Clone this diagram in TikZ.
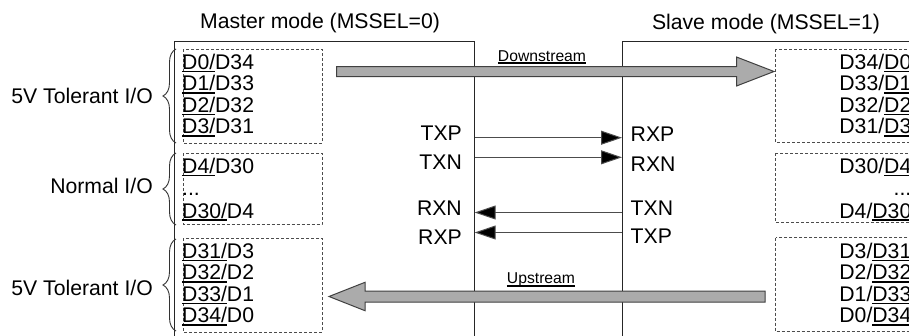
\documentclass[tikz,border=0pt]{standalone}
\usepackage{fontspec}
\setmainfont{Liberation Sans}
\usetikzlibrary{arrows.meta,decorations.pathreplacing}
\newcommand\ulx[1]{\setbox0\hbox{#1}\rlap{\rule[-3pt]{\wd0}{1.7pt}}\box0}
\newcommand\uls[1]{\setbox0\hbox{#1}\rlap{\rule[-2.8pt]{\wd0}{1.4pt}}\box0}
\begin{document}
\begin{tikzpicture}[x=1pt,y=-1pt,
  lbl/.style={inner sep=0pt, font=\fontsize{21.2}{24}\selectfont},
  sm/.style={inner sep=0pt, font=\fontsize{15.7}{18}\selectfont},
  frame/.style={draw=black!85, line width=1pt},
  dbox/.style={draw=black!70, line width=0.9pt, dash pattern=on 3pt off 2pt},
  sig/.style={draw=black!70, line width=1pt, -{Triangle[length=21pt,width=14pt,fill=black]}},
  fat/.style={draw=black!75, fill=black!33, line width=1pt},
  brc/.style={draw=black!80, line width=0.9pt, decorate, decoration={brace,amplitude=13pt}}
]
\useasboundingbox (0,0) rectangle (909,335);
\clip (0,0) rectangle (909,335);
\fill[white] (0,0) rectangle (909,335);

% titles
\node[lbl, anchor=base] (tm) at (320,28.5) {Master mode (MSSEL=0)};
\node[lbl, anchor=base] (ts) at (766,29) {Slave mode (MSSEL=1)};

% frames
\draw[frame] (174,345) -- (174,41) -- (474.7,41) -- (474.7,345);
\draw[frame] (622,345) -- (622,41) -- (930,41);

% dashed boxes left
\draw[dbox] (183,49) rectangle (322,143);
\draw[dbox] (183,153) rectangle (322,224.5);
\draw[dbox] (183,238) rectangle (322,332);
% dashed boxes right
\draw[dbox] (775.7,49) rectangle (930,142.7);
\draw[dbox] (775.7,153.3) rectangle (930,222.7);
\draw[dbox] (775.7,237.7) rectangle (930,331.7);

% braces
\draw[brc] (176,143) -- (176,49);
\draw[brc] (176,225) -- (176,153);
\draw[brc] (176,331) -- (176,239);

% group labels
\node[lbl, anchor=base east] (g1) at (153,103.1) {5V Tolerant I/O};
\node[lbl, anchor=base east] (g2) at (153,193.1) {Normal I/O};
\node[lbl, anchor=base east] (g3) at (153,295.7) {5V Tolerant I/O};

% left texts
\node[lbl, anchor=base west] (l1) at (182,69.4) {\ulx{D0/}D34};
\node[lbl, anchor=base west] (l2) at (182,90.9) {\ulx{D1/}D33};
\node[lbl, anchor=base west] (l3) at (182,112.4) {\ulx{D2/}D32};
\node[lbl, anchor=base west] (l4) at (182,133.9) {\ulx{D3/}D31};
\node[lbl, anchor=base west] (l5) at (182,173.4) {\ulx{D4/}D30};
\node[lbl, anchor=base west] (l6) at (182,195.4) {...};
\node[lbl, anchor=base west] (l7) at (182,218) {\ulx{D30/}D4};
\node[lbl, anchor=base west] (l8) at (182,258.4) {\ulx{D31/}D3};
\node[lbl, anchor=base west] (l9) at (182,279.9) {\ulx{D32/}D2};
\node[lbl, anchor=base west] (l10) at (182,301.4) {\ulx{D33/}D1};
\node[lbl, anchor=base west] (l11) at (182,322.9) {\ulx{D34/}D0};

% right texts
\node[lbl, anchor=base east] (r1) at (911.5,69.4) {D34/\ulx{D0}};
\node[lbl, anchor=base east] (r2) at (911.5,90.9) {D33/\ulx{D1}};
\node[lbl, anchor=base east] (r3) at (911.5,112.4) {D32/\ulx{D2}};
\node[lbl, anchor=base east] (r4) at (911.5,133.9) {D31/\ulx{D3}};
\node[lbl, anchor=base east] (r5) at (911.5,173.4) {D30/\ulx{D4}};
\node[lbl, anchor=base east] (r6) at (911.5,195.4) {...};
\node[lbl, anchor=base east] (r7) at (911.5,218) {D4/\ulx{D30}};
\node[lbl, anchor=base east] (r8) at (911.5,258.4) {D3/\ulx{D31}};
\node[lbl, anchor=base east] (r9) at (911.5,279.9) {D2/\ulx{D32}};
\node[lbl, anchor=base east] (r10) at (911.5,301.4) {D1/\ulx{D33}};
\node[lbl, anchor=base east] (r11) at (911.5,322.9) {D0/\ulx{D34}};

% signal labels
\node[lbl, anchor=base east] (txp) at (462,140) {TXP};
\node[lbl, anchor=base east] (txn) at (462,169.5) {TXN};
\node[lbl, anchor=base east] (rxn) at (462,215.3) {RXN};
\node[lbl, anchor=base east] (rxp) at (462,244) {RXP};
\node[lbl, anchor=base west] (srxp) at (630.5,141) {RXP};
\node[lbl, anchor=base west] (srxn) at (630.5,171) {RXN};
\node[lbl, anchor=base west] (stxn) at (630.5,215) {TXN};
\node[lbl, anchor=base west] (stxp) at (630.5,243) {TXP};

% signal connectors
\coordinate (a1) at (474.7,137.7); \coordinate (b1) at (622,137.7);
\coordinate (a2) at (474.7,157.3); \coordinate (b2) at (622,157.3);
\coordinate (a3) at (474.7,212.5); \coordinate (b3) at (622,212.5);
\coordinate (a4) at (474.7,232.5); \coordinate (b4) at (622,232.5);
\draw[sig] (a1) -- (b1);
\draw[sig] (a2) -- (b2);
\draw[sig] (b3) -- (a3);
\draw[sig] (b4) -- (a4);

% fat arrows
\draw[fat] (336.7,66.5) -- (736.5,66.5) -- (736.5,57) -- (774,71.5) -- (736.5,86) -- (736.5,76.5) -- (336.7,76.5) -- cycle;
\draw[fat] (765,291) -- (365,291) -- (365,282.3) -- (329,296.5) -- (365,310.7) -- (365,302) -- (765,302) -- cycle;

\node[sm, anchor=base] (down) at (542,61) {\uls{Downstream}};
\node[sm, anchor=base] (up) at (541,283.7) {\uls{Upstream}};
\end{tikzpicture}
\end{document}
